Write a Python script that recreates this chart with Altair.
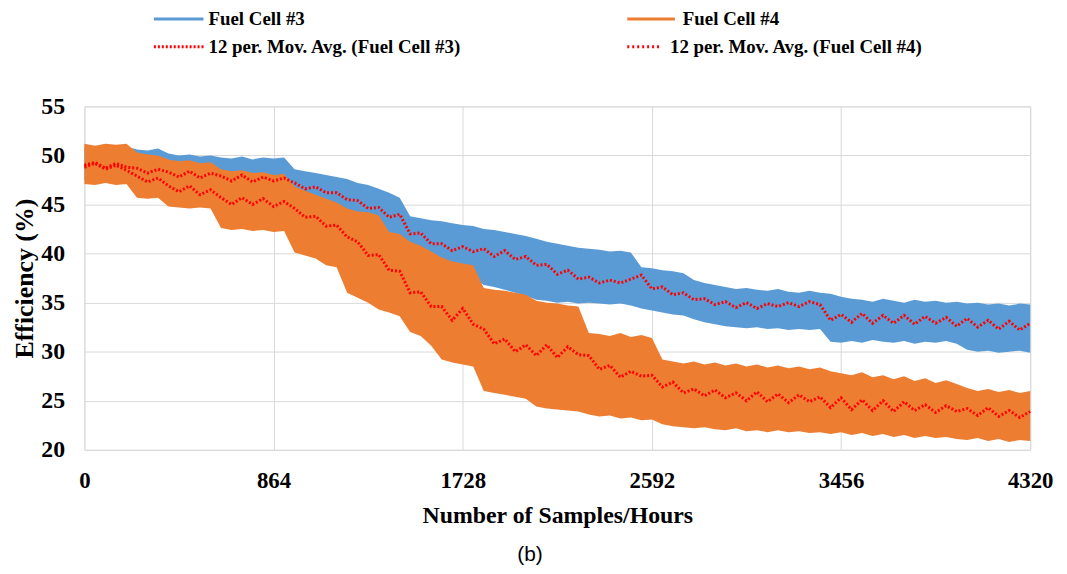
import altair as alt
import pandas as pd

# sample times (hours), every 48 h
hours = list(range(0, 4321, 48))

# Fuel Cell #3 efficiency envelope (upper / lower edge of the noisy trace)
fc3_hi = [50.9, 51.0, 50.8, 51.0, 50.9, 50.6, 50.5, 50.7, 50.2, 50.0, 50.1, 49.9, 50.0,
          49.8, 49.7, 49.9, 49.6, 49.8, 49.7, 49.8, 48.6, 48.4, 48.2, 48.0, 47.8, 47.6,
          47.2, 47.0, 46.6, 46.2, 45.7, 43.8, 43.6, 43.4, 43.3, 43.1, 42.9, 42.8,
          42.5, 42.4, 42.2, 42.0, 41.8, 41.5, 41.2, 41.0, 40.8, 40.6, 40.5,
          40.4, 40.2, 40.3, 40.1, 38.6, 38.5, 38.3, 38.2, 38.0, 37.3, 37.0, 36.8,
          36.6, 36.4, 36.5, 36.3, 36.2, 36.4, 36.1, 36.0, 36.2, 36.0, 35.9, 35.6,
          35.4, 35.3, 35.1, 35.4, 35.2, 35.0, 35.3, 35.1, 35.2, 35.0, 35.1,
          34.9, 35.0, 34.8, 34.9, 34.7, 34.9, 34.8]
fc3_lo = [47.5, 47.6, 47.4, 47.5, 47.6, 47.3, 47.2, 47.0, 46.9, 46.8, 46.6, 46.5, 46.4,
          46.2, 46.0, 45.9, 45.7, 45.6, 45.4, 45.3, 44.5, 44.2, 44.0, 43.6, 43.2, 42.8,
          42.3, 42.0, 41.8, 41.6, 41.4, 39.0, 38.8, 38.6, 38.5, 38.3, 38.0, 37.5,
          36.8, 36.6, 36.3, 36.0, 35.7, 35.3, 35.2, 35.0, 35.1, 34.9, 35.0,
          34.9, 34.8, 34.9, 34.7, 34.4, 34.2, 34.0, 33.8, 33.7, 33.3, 33.0, 32.8,
          32.6, 32.5, 32.4, 32.5, 32.3, 32.4, 32.2, 32.3, 32.2, 32.3, 31.0, 30.9,
          31.1, 30.9, 31.2, 31.0, 30.9, 31.1, 30.8, 31.0, 30.9, 31.1, 30.8,
          30.2, 30.0, 30.1, 29.9, 30.0, 30.1, 29.9]

# Fuel Cell #4 efficiency envelope
fc4_hi = [51.2, 51.0, 51.2, 51.1, 51.2, 50.3, 50.1, 50.0, 49.6, 49.4, 49.5, 49.2, 49.3,
          48.6, 48.4, 48.5, 48.2, 48.3, 48.0, 48.1, 46.8, 46.4, 46.0, 45.6, 45.2, 44.6,
          44.3, 44.2, 43.9, 42.2, 42.0, 41.2, 40.8, 40.2, 39.6, 39.2, 39.0, 38.8,
          36.5, 36.3, 36.2, 36.0, 35.8, 35.2, 35.0, 34.9, 34.7, 34.6,
          31.9, 31.8, 31.6, 31.9, 31.5, 31.7, 31.4,
          29.2, 29.0, 28.8, 29.0, 28.7, 28.9, 28.6, 28.8, 28.5, 28.7, 28.4, 28.6, 28.3, 28.5, 28.2, 28.4,
          28.0, 27.8, 27.6, 27.9, 27.4, 27.6, 27.2, 27.5, 27.0, 27.3, 26.8, 27.1, 26.7,
          26.3, 26.0, 26.2, 25.9, 26.1, 25.8, 26.0]
fc4_lo = [47.1, 47.0, 47.2, 47.0, 47.1, 45.7, 45.6, 45.7, 44.8, 44.7, 44.6, 44.7, 44.6,
          42.6, 42.4, 42.5, 42.3, 42.4, 42.2, 42.3, 40.1, 39.8, 39.5, 38.8, 38.6,
          36.0, 35.5, 35.0, 34.3, 34.0, 33.6, 32.0, 31.6, 30.6, 29.2, 28.9, 28.7, 28.5,
          26.0, 25.8, 25.6, 25.4, 25.2, 24.4, 24.2, 24.1, 24.0, 23.9,
          23.6, 23.4, 23.5, 23.2, 23.3, 23.0, 23.1,
          22.6, 22.4, 22.3, 22.2, 22.3, 22.1, 22.0, 22.2, 21.9, 22.0, 21.8, 22.0, 21.8, 21.9, 21.7, 21.8,
          21.6, 21.8, 21.5, 21.7, 21.4, 21.6, 21.3, 21.5, 21.2, 21.4, 21.2, 21.3, 21.1,
          21.0, 21.2, 20.9, 21.1, 20.8, 21.0, 20.9]

# 12-period moving averages
ma3 = [49.0, 49.3, 48.7, 49.2, 48.8, 48.7, 48.2, 48.6, 48.3, 47.8, 48.4, 47.7, 48.2,
       47.9, 47.4, 48.0, 47.3, 47.8, 47.4, 47.7, 47.2, 46.6, 46.8, 46.2, 46.2, 45.5,
       45.4, 44.6, 44.7, 43.7, 44.0, 42.0, 42.1, 41.0, 41.0, 40.3, 40.7, 40.2,
       40.5, 39.7, 40.3, 39.4, 39.7, 38.8, 38.9, 37.9, 38.3, 37.4,
       37.6, 37.0, 37.3, 37.0, 37.4, 37.8, 36.4, 36.6, 35.8, 36.0, 35.3, 35.4, 34.8,
       35.1, 34.5, 35.0, 34.4, 34.9, 34.6, 35.0, 34.6, 35.1, 34.8, 33.2, 33.8,
       33.0, 33.9, 32.9, 33.7, 32.9, 33.7, 32.8, 33.6, 32.9, 33.5, 32.6,
       33.4, 32.5, 33.2, 32.3, 33.1, 32.2, 32.9]
ma4 = [48.8, 49.2, 48.6, 49.0, 48.5, 47.9, 47.3, 47.7, 46.9, 46.3, 46.9, 46.0, 46.5,
       45.7, 45.0, 45.7, 45.0, 45.6, 44.8, 45.3, 44.6, 43.7, 43.8, 42.8, 42.9, 41.7,
       41.2, 39.8, 39.9, 38.3, 38.2, 36.0, 36.1, 34.6, 34.6, 33.2, 34.4, 32.8,
       32.3, 30.8, 31.3, 30.0, 30.7, 29.6, 30.7, 29.4, 30.5, 29.7,
       29.6, 28.2, 28.6, 27.4, 28.0, 27.5, 27.6,
       26.4, 26.9, 25.8, 26.2, 25.5, 26.1, 25.3, 25.8, 25.0, 25.9, 24.9, 25.7, 24.8, 25.6, 24.9, 25.4,
       24.3, 25.3, 24.1, 25.1, 24.0, 25.0, 23.9, 24.9, 24.0, 24.6, 23.8, 24.5, 23.9,
       24.2, 23.5, 24.3, 23.4, 24.0, 23.3, 23.9]

x_ticks = [0, 864, 1728, 2592, 3456, 4320]
y_ticks = [20, 25, 30, 35, 40, 45, 50, 55]
legend_labels = ["Fuel Cell #3", "Fuel Cell #4",
                 "12 per. Mov. Avg. (Fuel Cell #3)", "12 per. Mov. Avg. (Fuel Cell #4)"]
caption = "(b)"

BLUE = "#5B9BD5"
ORANGE = "#ED7D31"
RED = "#FF0000"
SERIF = "Liberation Serif"

df = pd.DataFrame({"t": hours, "fc3_hi": fc3_hi, "fc3_lo": fc3_lo,
                   "fc4_hi": fc4_hi, "fc4_lo": fc4_lo, "ma3": ma3, "ma4": ma4})

x_enc = alt.X("t:Q", scale=alt.Scale(domain=[0, 4320], nice=False, zero=False),
              axis=alt.Axis(values=x_ticks, format="d", title="Number of Samples/Hours",
                            ticks=False, domain=False, grid=True, gridColor="#D9D9D9",
                            labelFont=SERIF, labelFontSize=23, labelFontWeight="bold",
                            labelColor="black", labelPadding=20, titleFont=SERIF,
                            titleFontSize=24, titleFontWeight="bold", titleColor="black",
                            titlePadding=11, labelFlush=False))
y_axis = alt.Axis(values=y_ticks, format="d", title="Efficiency (%)", ticks=False, domain=False,
                  grid=True, gridColor="#D9D9D9", labelFont=SERIF, labelFontSize=24,
                  labelFontWeight="bold", labelColor="black", labelPadding=20, titleFont=SERIF,
                  titleFontSize=26, titleFontWeight="bold", titleColor="black", titlePadding=3)
y_scale = alt.Scale(domain=[20, 55], nice=False, zero=False)

base = alt.Chart(df)
band3 = base.mark_area(color=BLUE, opacity=1).encode(
    x=x_enc, y=alt.Y("fc3_lo:Q", scale=y_scale, axis=y_axis), y2="fc3_hi:Q")
band4 = base.mark_area(color=ORANGE, opacity=1).encode(
    x=x_enc, y=alt.Y("fc4_lo:Q", scale=y_scale, axis=y_axis), y2="fc4_hi:Q")
avg3 = base.mark_line(color=RED, strokeWidth=3, strokeDash=[2, 2]).encode(
    x=x_enc, y=alt.Y("ma3:Q", scale=y_scale, axis=y_axis))
avg4 = base.mark_line(color=RED, strokeWidth=3, strokeDash=[2, 2]).encode(
    x=x_enc, y=alt.Y("ma4:Q", scale=y_scale, axis=y_axis))

layers = [band3, band4, avg3, avg4]

# manual legend (two rows, two columns above the plot)
leg_specs = [
    (legend_labels[0], BLUE, None, 70, 120, 125, -88),
    (legend_labels[1], ORANGE, None, 547, 595, 603, -88),
    (legend_labels[2], RED, [2, 2], 70, 120, 125, -60),
    (legend_labels[3], RED, [2, 3], 547, 580, 590, -60),
]
for label, col, dash, x1, x2, xt, yy in leg_specs:
    ld = pd.DataFrame({"label": [label]})
    rule_kwargs = dict(color=col, strokeWidth=3)
    if dash is not None:
        rule_kwargs["strokeDash"] = dash
    layers.append(alt.Chart(ld).mark_rule(**rule_kwargs).encode(
        x=alt.value(x1), x2=alt.value(x2), y=alt.value(yy)))
    layers.append(alt.Chart(ld).mark_text(
        align="left", baseline="middle", font=SERIF, fontSize=19, fontWeight="bold",
        color="black").encode(x=alt.value(xt), y=alt.value(yy), text="label:N"))

cap_df = pd.DataFrame({"label": [caption]})
layers.append(alt.Chart(cap_df).mark_text(
    align="center", baseline="middle", font="Liberation Sans", fontSize=21,
    color="black").encode(x=alt.value(449), y=alt.value(452), text="label:N"))

chart = alt.layer(*layers).properties(
    width=953, height=346,
    autosize=alt.AutoSizeParams(type="none"),
    padding={"left": 77, "top": 97, "right": 29, "bottom": 123},
).configure_view(stroke=None).configure(background="white")

chart.save("out.html", embed_options={"renderer": "svg", "actions": False})
